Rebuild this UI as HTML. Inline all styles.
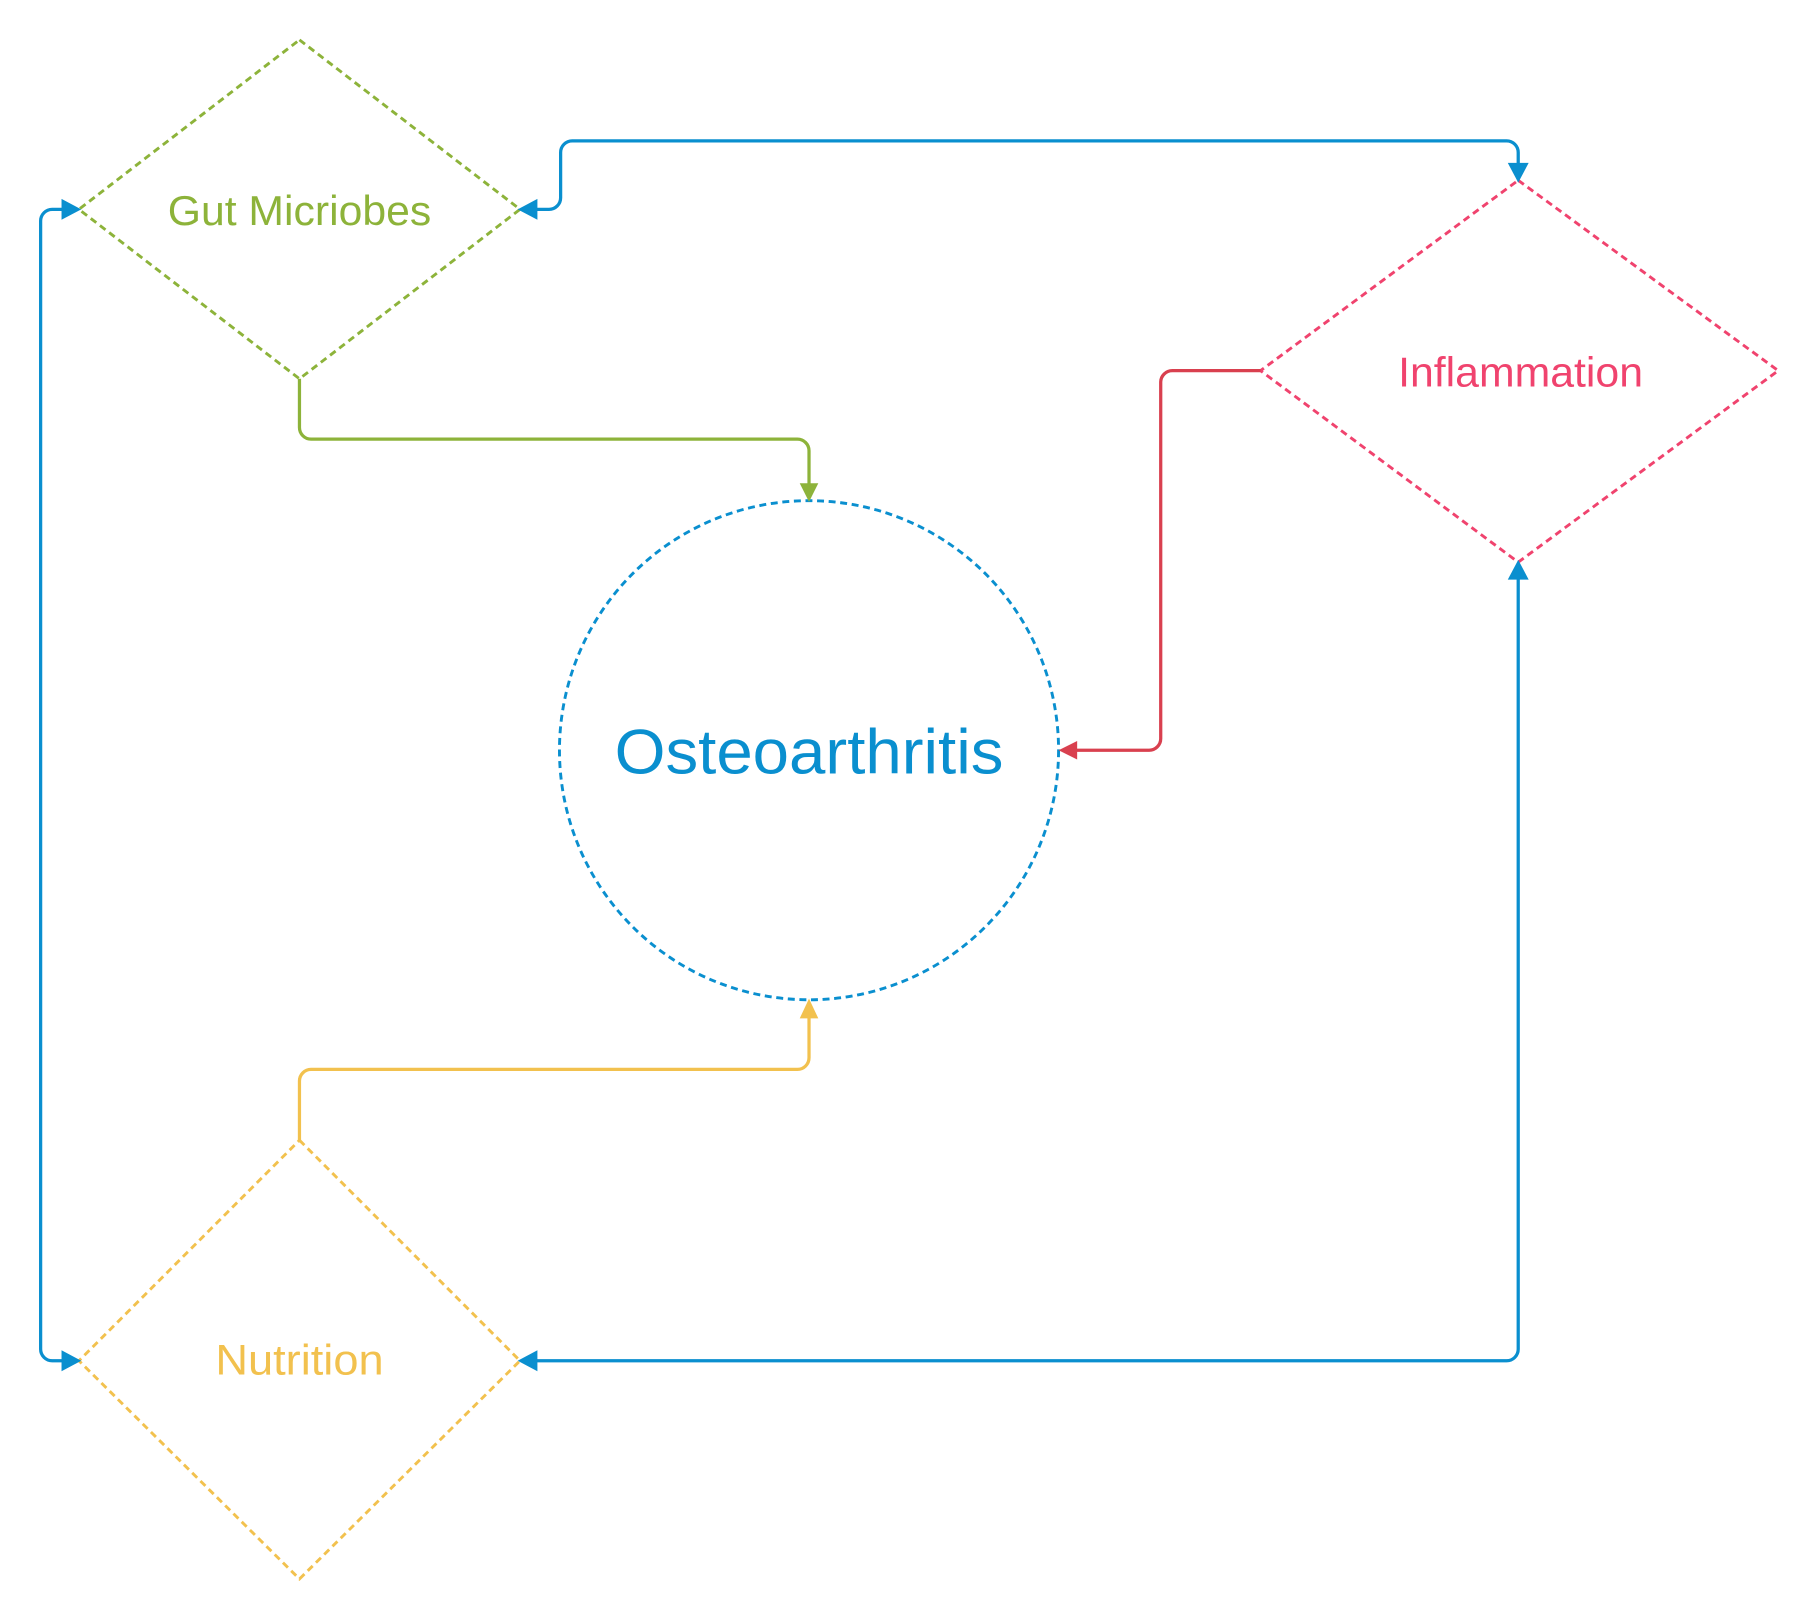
<!DOCTYPE html>
<html><head><style>html,body{margin:0;padding:0;background:#fff}svg{display:block}</style></head>
<body>
<svg width="1820" height="1620" viewBox="0 0 1568 1395" xmlns="http://www.w3.org/2000/svg" font-family="'Liberation Sans', sans-serif">
<g fill="none" stroke-width="2.5" stroke-dasharray="6,4">
<polygon points="258,34 448,180 258,326 68,180" stroke="#8db33a"/>
<polygon points="1308,155 1532,319 1308,484 1086,319" stroke="#f0436e"/>
<polygon points="258,982 448,1172 258,1360 68,1172" stroke="#f2c14e"/>
<circle cx="697" cy="646" r="215" stroke="#0a8fcf"/>
</g>
<g fill="none" stroke-width="2.8">
<path d="M258,326 V368 a10,10 0 0 0 10,10 H687 a10,10 0 0 1 10,10 V418" stroke="#8db33a"/>
<path d="M1086,319 H1010 a10,10 0 0 0 -10,10 V636 a10,10 0 0 1 -10,10 H926" stroke="#d9404f"/>
<path d="M258,982 V931 a10,10 0 0 1 10,-10 H687 a10,10 0 0 0 10,-10 V874" stroke="#f2c14e"/>
<path d="M55,180 H45 a10,10 0 0 0 -10,10 V1162 a10,10 0 0 0 10,10 H55" stroke="#0a8fcf"/>
<path d="M461,180 H473 a10,10 0 0 0 10,-10 V131 a10,10 0 0 1 10,-10 H1298 a10,10 0 0 1 10,10 V142" stroke="#0a8fcf"/>
<path d="M461,1172 H1298 a10,10 0 0 0 10,-10 V497" stroke="#0a8fcf"/>
</g>
<g>
<path d="M689,416 L705,416 L697,432 z" fill="#8db33a"/>
<path d="M928,638 L928,654 L912,646 z" fill="#d9404f"/>
<path d="M689,877 L705,877 L697,860 z" fill="#f2c14e"/>
<g fill="#0a8fcf">
<path d="M53,171 L53,189 L70,180 z"/>
<path d="M53,1163 L53,1181 L70,1172 z"/>
<path d="M463,171 L463,189 L446,180 z"/>
<path d="M463,1163 L463,1181 L446,1172 z"/>
<path d="M1299,140 L1317,140 L1308,157 z"/>
<path d="M1299,499 L1317,499 L1308,482 z"/>
</g>
</g>
<g text-anchor="middle" dominant-baseline="central">
<text x="258" y="181" font-size="36" fill="#8db33a" textLength="227" lengthAdjust="spacingAndGlyphs">Gut Micriobes</text>
<text x="1310" y="320" font-size="36" fill="#f0436e" textLength="211" lengthAdjust="spacingAndGlyphs">Inflammation</text>
<text x="258" y="1172" font-size="37" fill="#f2c14e" textLength="145" lengthAdjust="spacingAndGlyphs">Nutrition</text>
<text x="697" y="648" font-size="54" fill="#0a8fcf" textLength="335" lengthAdjust="spacingAndGlyphs">Osteoarthritis</text>
</g>
</svg>
</body></html>
